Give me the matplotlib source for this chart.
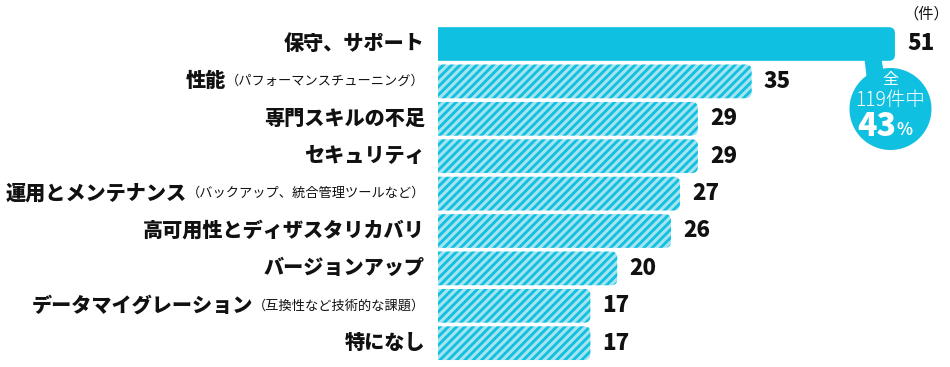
#!/usr/bin/env python3
"""
Horizontal bar chart: issues reported (件), top item highlighted with a callout.
"""

import matplotlib.pyplot as plt
from matplotlib.patches import FancyBboxPatch, Ellipse, Polygon

plt.rcParams['font.family'] = ['Noto Sans CJK JP', 'DejaVu Sans']
plt.rcParams['hatch.linewidth'] = 2.0

# Data
labels_main = ['保守、サポート', '性能', '専門スキルの不足', 'セキュリティ',
               '運用とメンテナンス', '高可用性とディザスタリカバリ', 'バージョンアップ',
               'データマイグレーション', '特になし']
labels_note = ['', '（パフォーマンスチューニング）', '', '',
               '（バックアップ、統合管理ツールなど）', '', '',
               '（互換性など技術的な課題）', '']
counts = [51, 35, 29, 29, 27, 26, 20, 17, 17]
total = 119
unit = '（件）'

CYAN = '#10c0e0'
LIGHT = '#a6e3f0'

fig = plt.figure(figsize=(9.5, 3.67), dpi=100)
W, H = 950, 367
x0_px, px_per = 438, 8.96
row0_px, row_px = 44, 37.4
ax = fig.add_axes([x0_px / W, 0, 1 - x0_px / W, 1])
ax.set_xlim(0, (W - x0_px) / px_per)
ax.set_ylim((H - row0_px) / row_px, -row0_px / row_px)
ax.axis('off')

bar_h = 0.9
r = 6 / px_per
aspect = px_per / row_px
for i, v in enumerate(counts):
    if i == 0:
        p = FancyBboxPatch((-1, i - bar_h / 2), v + 1, bar_h,
                           boxstyle=f'round,pad=0,rounding_size={r}',
                           mutation_aspect=aspect, facecolor=CYAN,
                           edgecolor='none', linewidth=0)
    else:
        p = FancyBboxPatch((-1, i - bar_h / 2), v + 1, bar_h,
                           boxstyle=f'round,pad=0,rounding_size={r}',
                           mutation_aspect=aspect, facecolor=LIGHT,
                           edgecolor=CYAN, linewidth=0, hatch='////')
    ax.add_patch(p)
    ax.annotate(str(v), xy=(v, i), xytext=(12, 0), textcoords='offset pixels',
                ha='left', va='center', fontsize=16, fontweight='black',
                color='#111111')

# Category labels: bold main text + smaller note
fig.canvas.draw()
renderer = fig.canvas.get_renderer()
for i, (m, n) in enumerate(zip(labels_main, labels_note)):
    offset = -13
    if n:
        t = ax.annotate(n, xy=(0, i), xytext=(offset, 0), textcoords='offset pixels',
                        ha='right', va='center', fontsize=9.5, color='#111111',
                        annotation_clip=False)
        offset -= t.get_window_extent(renderer).width
    ax.annotate(m, xy=(0, i), xytext=(offset, 0), textcoords='offset pixels',
                ha='right', va='center', fontsize=14.5, fontweight='black',
                color='#111111', annotation_clip=False)

# unit label
ax.annotate(unit, xy=(counts[0], 0), xytext=(8, 30), textcoords='offset pixels',
            ha='left', va='center', fontsize=11, color='#111111',
            annotation_clip=False)

# callout bubble
cx, cy = counts[0] - 0.5, (109 - row0_px) / row_px
rad = 41
ax.add_patch(Ellipse((cx, cy), 2 * rad / px_per, 2 * rad / row_px,
                     facecolor=CYAN, edgecolor='none', clip_on=False))
tail = [(counts[0] - 3.4, bar_h / 2 - 0.05), (counts[0] - 1.5, bar_h / 2 - 0.05),
        (counts[0] - 1.0, cy - 0.6), (counts[0] - 3.0, cy - 0.5)]
ax.add_patch(Polygon(tail, closed=True, facecolor=CYAN, edgecolor='none',
                     clip_on=False))
pct = round(counts[0] / total * 100)
ax.annotate('全', xy=(cx, cy), xytext=(0, 29), textcoords='offset pixels',
            ha='center', va='center', fontsize=11.5, color='white')
ax.annotate(f'{total}件中', xy=(cx, cy), xytext=(0, 8), textcoords='offset pixels',
            ha='center', va='center', fontsize=14, color='white',
            fontweight='light')
ax.annotate(str(pct), xy=(cx, cy), xytext=(6, -17), textcoords='offset pixels',
            ha='right', va='center', fontsize=23, color='white', fontweight='black')
ax.annotate('%', xy=(cx, cy), xytext=(6, -21), textcoords='offset pixels',
            ha='left', va='center', fontsize=12, color='white', fontweight='bold')

fig.savefig('out.png', dpi=100)
